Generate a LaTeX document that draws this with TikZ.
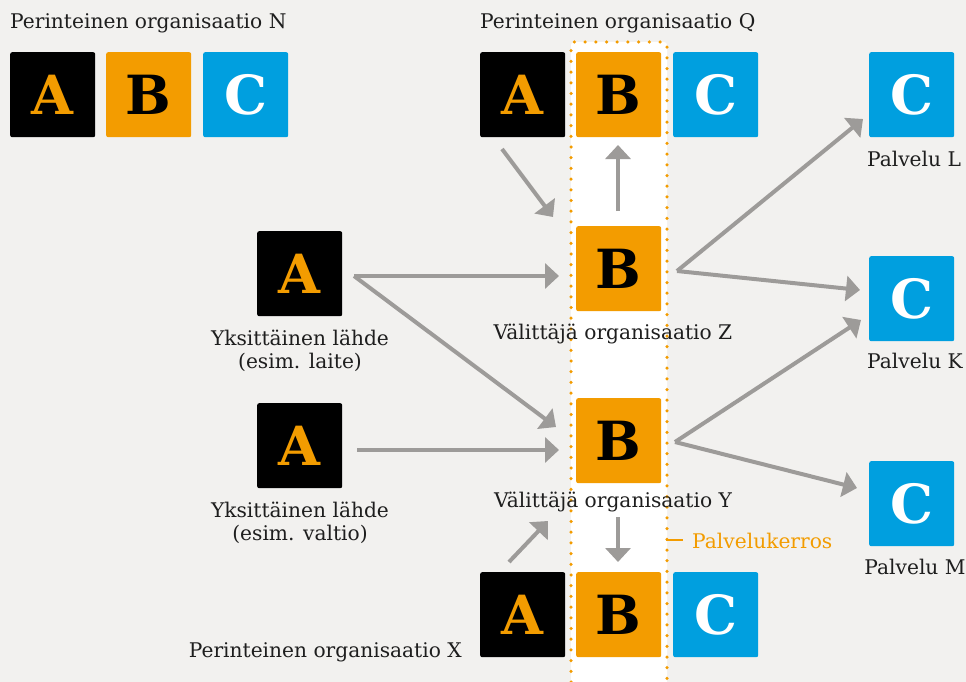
\documentclass[tikz,border=0pt]{standalone}
\usepackage{fontspec}
\setmainfont{DejaVu Serif}
\usetikzlibrary{arrows.meta}
\definecolor{bg}{HTML}{F2F1EF}
\definecolor{ora}{HTML}{F39C00}
\definecolor{blu}{HTML}{009FDF}
\definecolor{gry}{HTML}{9D9B99}
\definecolor{txt}{HTML}{1E1E1E}
\tikzset{
  box/.style={minimum size=85pt, inner sep=0pt, rounded corners=2pt, anchor=north west,
    font=\fontsize{54}{54}\selectfont\bfseries},
  abox/.style={box, fill=black, text=ora},
  bbox/.style={box, fill=ora, text=black},
  cbox/.style={box, fill=blu, text=white},
  lbl/.style={font=\fontsize{20.2}{24}\selectfont, text=txt, inner sep=0pt, anchor=base},
  conn/.style={draw=gry, line width=4pt, -{Triangle[length=14pt,width=25pt]}},
  dotline/.style={draw=ora, line width=3.5pt, line cap=round, dash pattern=on 0pt off 10.7pt},
}
\begin{document}
\begin{tikzpicture}[x=1pt,y=-1pt]
\fill[bg] (0,0) rectangle (966,682);
\useasboundingbox (0,0) rectangle (966,682);
% service layer strip
\fill[white, rounded corners=3pt] (571,690) -- (571,42) -- (667,42) -- (667,690);
\draw[dotline, rounded corners=3pt] (571,682) -- (571,42) -- (667,42) -- (667,682);
% boxes
\node[abox] (nA) at (10,52) {A};
\node[bbox] (nB) at (106,52) {B};
\node[cbox] (nC) at (203,52) {C};
\node[abox] (qA) at (480,52) {A};
\node[bbox] (qB) at (576,52) {B};
\node[cbox] (qC) at (673,52) {C};
\node[cbox] (cL) at (869,52) {C};
\node[bbox] (zB) at (576,226) {B};
\node[cbox] (cK) at (869,256) {C};
\node[abox] (a1) at (257,231) {A};
\node[abox] (a2) at (257,403) {A};
\node[bbox] (yB) at (576,398) {B};
\node[cbox] (cM) at (869,461) {C};
\node[abox] (xA) at (480,572) {A};
\node[bbox] (xB) at (576,572) {B};
\node[cbox] (xC) at (673,572) {C};
% labels
\node[lbl, anchor=base west] (tN) at (10,29) {Perinteinen organisaatio N};
\node[lbl, anchor=base west] (tQ) at (480,29) {Perinteinen organisaatio Q};
\node[lbl] (tL) at (914,166) {Palvelu L};
\node[lbl] (tZ) at (613,339) {Välittäjä organisaatio Z};
\node[lbl] (tK) at (915,368) {Palvelu K};
\node[lbl] (t1a) at (300,345) {Yksittäinen lähde};
\node[lbl] (t1b) at (300,368) {(esim. laite)};
\node[lbl] (t2a) at (300,517) {Yksittäinen lähde};
\node[lbl] (t2b) at (300,540) {(esim. valtio)};
\node[lbl] (tY) at (613,507) {Välittäjä organisaatio Y};
\node[lbl] (tM) at (915,574) {Palvelu M};
\node[lbl, anchor=base east] (tX) at (462,657) {Perinteinen organisaatio X};
\node[lbl, anchor=base west, text=ora] (tP) at (692,548) {Palvelukerros};
\coordinate (pk) at (666,540);
\draw[ora, line width=2pt] (pk) -- (683,540);
% connector end points
\coordinate (qAo) at (502,149);
\coordinate (zBi1) at (553,217);
\coordinate (zBo) at (618,211);
\coordinate (qBi) at (618,145);
\coordinate (a1o) at (354,276);
\coordinate (zBi) at (559,276);
\coordinate (yBi1) at (556,427);
\coordinate (a2o) at (357,450);
\coordinate (yBi2) at (559,450);
\coordinate (zBr) at (677,271);
\coordinate (cLi) at (863,119);
\coordinate (cKi1) at (860,290);
\coordinate (yBr) at (675,442);
\coordinate (cKi2) at (861,320);
\coordinate (cMi) at (857,488);
\coordinate (xAo) at (509,562);
\coordinate (yBi3) at (548,521);
\coordinate (yBo) at (618,517);
\coordinate (xBi) at (618,562);
% connectors
\draw[conn] (qAo) -- (zBi1);
\draw[conn] (zBo) -- (qBi);
\draw[conn] (a1o) -- (zBi);
\draw[conn] (a1o) -- (yBi1);
\draw[conn] (a2o) -- (yBi2);
\draw[conn] (zBr) -- (cLi);
\draw[conn] (zBr) -- (cKi1);
\draw[conn] (yBr) -- (cKi2);
\draw[conn] (yBr) -- (cMi);
\draw[conn] (xAo) -- (yBi3);
\draw[conn] (yBo) -- (xBi);
\end{tikzpicture}
\end{document}
